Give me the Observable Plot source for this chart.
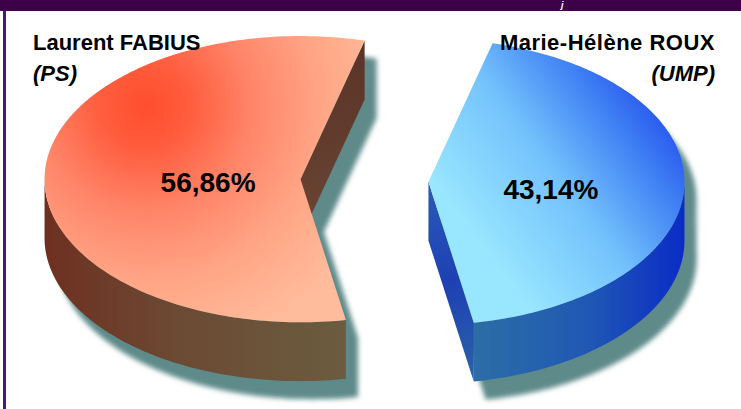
<!DOCTYPE html>
<html><head><meta charset="utf-8">
<script src="https://cdn.jsdelivr.net/npm/d3@7"></script>
<script src="https://cdn.jsdelivr.net/npm/@observablehq/plot@0.6"></script>
<style>
html,body{margin:0;padding:0;background:#fff;}
#wrap{position:relative;width:741px;height:409px;overflow:hidden;font-family:"Liberation Sans",Arial,sans-serif;}
#titlebar{position:absolute;left:0;top:0;width:741px;height:11px;background:#3d0049;z-index:2;}
#titlebar span{position:absolute;left:561px;top:0px;color:#fff;font:italic bold 9px/10px "Liberation Sans",Arial,sans-serif;}
#lborder{position:absolute;left:3px;top:11px;width:3px;height:398px;background:#4a1870;z-index:2;}
.cand{position:absolute;top:27px;font-weight:bold;font-size:22px;line-height:31px;color:#000;z-index:2;white-space:nowrap;}
.cand i{font-style:italic;}
#c0{left:33px;text-align:left;}
#c1{right:26px;text-align:right;}
#c1 .nm{letter-spacing:0.5px;}
#chart{position:absolute;left:0;top:0;}
</style></head>
<body><div id="wrap">
<div id="chart"></div>
<div id="titlebar"><span>j</span></div>
<div id="lborder"></div>
<div class="cand" id="c0"></div>
<div class="cand" id="c1"></div>
</div>
<script>
// ---- data ----
const candidates = ["Laurent FABIUS", "Marie-Hélène ROUX"];
const parties = ["PS", "UMP"];
const shares = [56.86, 43.14];
const shareLabels = ["56,86%", "43,14%"];

// ---- 3D pie layout (model units: pie radius = 1) ----
const TILT = 0.559, DEPTH = 0.23, EXPLODE = 0.25;
const BOUNDARY = 14.5 * Math.PI / 180; // where the second slice starts (clockwise from back)
const total = d3.sum(shares);
const span0 = 2 * Math.PI * shares[0] / total;
const start = BOUNDARY + 2 * Math.PI - span0;
const arcs = d3.pie().sort(null).startAngle(start).endAngle(start + 2 * Math.PI)(shares);

const pieces = arcs.map((a, i) => {
  const mid = (a.startAngle + a.endAngle) / 2;
  return {i, a0: a.startAngle, a1: a.endAngle, mid,
    cx: EXPLODE * Math.sin(mid), cy: EXPLODE * Math.cos(mid) * TILT};
});
const P = (p, t, z) => ({x: p.cx + Math.sin(t), y: p.cy + Math.cos(t) * TILT - z});
const arcPts = (p, t0, t1, z) => {
  const n = Math.max(2, Math.ceil((t1 - t0) / 0.02));
  return d3.range(n + 1).map(k => P(p, t0 + (t1 - t0) * k / n, z));
};
const centre = (p, z) => ({x: p.cx, y: p.cy - z});

const tops = [], outerWalls = [], cutWalls = [], shadow = [];
pieces.forEach(p => {
  const top = [centre(p, 0), ...arcPts(p, p.a0, p.a1, 0)];
  const bot = [centre(p, DEPTH), ...arcPts(p, p.a0, p.a1, DEPTH)];
  tops.push(top.map(d => ({...d, poly: "t" + p.i, k: p.i})));
  shadow.push(...top.map(d => ({...d, poly: "st" + p.i})));
  shadow.push(...bot.map(d => ({...d, poly: "sb" + p.i})));
  for (let k = -1; k <= 2; k++) {
    const lo = Math.max(p.a0, Math.PI / 2 + 2 * Math.PI * k);
    const hi = Math.min(p.a1, 3 * Math.PI / 2 + 2 * Math.PI * k);
    if (hi > lo) {
      const poly = [...arcPts(p, lo, hi, 0), ...arcPts(p, lo, hi, DEPTH).reverse()];
      outerWalls.push(poly.map(d => ({...d, poly: "o" + p.i + k, k: p.i})));
      shadow.push(...poly.map(d => ({...d, poly: "so" + p.i + k})));
    }
  }
  [[p.a0, p.a0 - Math.PI / 2], [p.a1, p.a1 + Math.PI / 2]].forEach(([t, nrm], j) => {
    const poly = [centre(p, 0), P(p, t, 0), P(p, t, DEPTH), centre(p, DEPTH)];
    shadow.push(...poly.map(d => ({...d, poly: "sc" + p.i + j})));
    if (Math.cos(nrm) < 0) cutWalls.push(poly.map(d => ({...d, poly: "c" + p.i + j, k: p.i})));
  });
});

const labels = pieces.map(p => ({
  x: p.cx + 0.42 * Math.sin(p.mid),
  y: p.cy + 0.42 * Math.cos(p.mid) * TILT,
  text: shareLabels[p.i]
}));

const topFill = ["url(#gRedTop)", "url(#gBlueTop)"];
const wallFill = ["url(#gRedWall)", "url(#gBlueWall)"];
const cutFill = ["url(#gRedCut)", "url(#gBlueCut)"];
const SHADOW = "#5f8a8a";

const polyMark = (polys, fills) => polys.map(poly =>
  Plot.line(poly, {x: "x", y: "y", curve: "linear-closed", stroke: "none", fill: fills[poly[0].k]}));

const chart = Plot.plot({
  width: 741, height: 409, margin: 0,
  x: {domain: [-1, 1], range: [108, 620], axis: null},
  y: {domain: [1, -1], range: [-76, 436], axis: null},
  style: {background: "transparent", overflow: "visible"},
  marks: [
    Plot.line(shadow, {x: "x", y: "y", z: "poly", curve: "linear-closed", stroke: "none", fill: SHADOW, dx: 12, dy: 18}),
    ...polyMark(outerWalls, wallFill),
    ...polyMark(cutWalls, cutFill),
    ...polyMark(tops, topFill),
    Plot.text(labels, {x: "x", y: "y", text: "text", fontSize: 28, fontWeight: "bold",
      fontFamily: "Liberation Sans, Arial, sans-serif", fill: "#000", dx: 15, dy: 6})
  ]
});

const defs = `
<filter id="fBlur" x="-10%" y="-10%" width="120%" height="120%"><feGaussianBlur stdDeviation="2.5"/></filter>
<radialGradient id="gRedTop" gradientUnits="userSpaceOnUse" cx="145" cy="105" r="250">
  <stop offset="0" stop-color="#ff4e2e"/><stop offset="0.18" stop-color="#ff5d3e"/>
  <stop offset="0.42" stop-color="#ff8468"/><stop offset="0.7" stop-color="#ffa585"/><stop offset="1" stop-color="#ffbc9c"/>
</radialGradient>
<linearGradient id="gBlueTop" gradientUnits="userSpaceOnUse" x1="470" y1="230" x2="650" y2="95">
  <stop offset="0" stop-color="#98e6ff"/><stop offset="0.45" stop-color="#74c2fc"/>
  <stop offset="0.8" stop-color="#3f80f4"/><stop offset="1" stop-color="#2856ee"/>
</linearGradient>
<linearGradient id="gRedWall" gradientUnits="userSpaceOnUse" x1="44" y1="0" x2="342" y2="0">
  <stop offset="0" stop-color="#6e3020"/><stop offset="0.45" stop-color="#6c4a34"/><stop offset="1" stop-color="#6b5c3f"/>
</linearGradient>
<linearGradient id="gRedCut" gradientUnits="userSpaceOnUse" x1="300" y1="60" x2="340" y2="230">
  <stop offset="0" stop-color="#5a3428"/><stop offset="1" stop-color="#6a4634"/>
</linearGradient>
<linearGradient id="gBlueWall" gradientUnits="userSpaceOnUse" x1="470" y1="0" x2="684" y2="0">
  <stop offset="0" stop-color="#2c6ea6"/><stop offset="0.55" stop-color="#2058b4"/><stop offset="1" stop-color="#0a2cc6"/>
</linearGradient>
<linearGradient id="gBlueCut" gradientUnits="userSpaceOnUse" x1="428" y1="180" x2="472" y2="380">
  <stop offset="0" stop-color="#2a5cb8"/><stop offset="0.5" stop-color="#1e40b4"/><stop offset="1" stop-color="#2a62a8"/>
</linearGradient>`;
const svg = chart.tagName.toLowerCase() === "svg" ? chart : chart.querySelector("svg");
const d = document.createElementNS("http://www.w3.org/2000/svg", "defs");
d.innerHTML = defs;
svg.insertBefore(d, svg.firstChild);
svg.querySelectorAll(`g[fill="${SHADOW}"]`).forEach(g => g.setAttribute("filter", "url(#fBlur)"));
document.getElementById("chart").appendChild(chart);

document.getElementById("c0").innerHTML = `${candidates[0]}<br><i>(${parties[0]})</i>`;
document.getElementById("c1").innerHTML = `<span class="nm">${candidates[1]}</span><br><i>(${parties[1]})</i>`;
</script>
</body></html>
